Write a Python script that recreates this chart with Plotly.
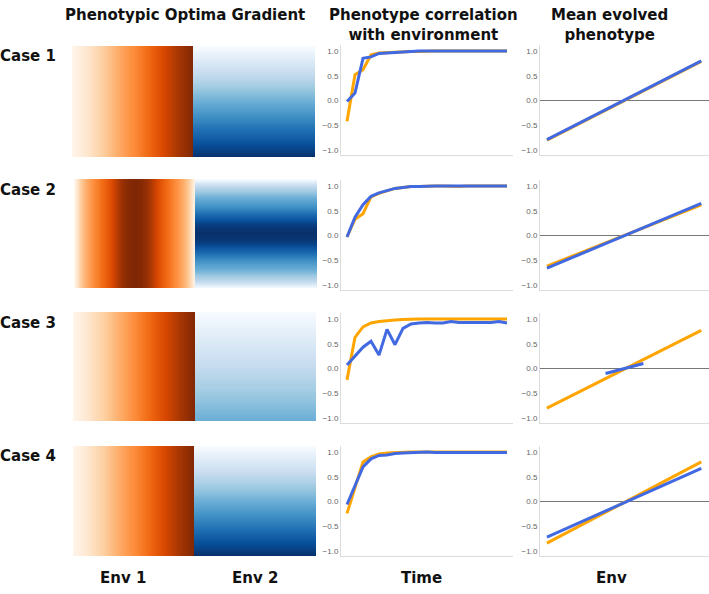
import plotly.graph_objects as go

W, H = 709, 594

# ---------------- data ----------------
# Phenotypic optima gradients (0 = low, 1 = high)
env1_linear = [0.00, 0.05, 0.10, 0.15, 0.20, 0.25, 0.30, 0.35, 0.40, 0.45, 0.50,
               0.55, 0.60, 0.65, 0.70, 0.75, 0.80, 0.85, 0.90, 0.95, 1.00]
env1_peak = [0.00, 0.25, 0.38, 0.48, 0.56, 0.64, 0.72, 0.82, 0.92, 0.98, 1.00,
             0.98, 0.92, 0.82, 0.72, 0.64, 0.56, 0.48, 0.38, 0.25, 0.00]
env2_linear = [0.00, 0.05, 0.10, 0.15, 0.20, 0.25, 0.30, 0.35, 0.40, 0.45, 0.50,
               0.55, 0.60, 0.65, 0.70, 0.75, 0.80, 0.85, 0.90, 0.95, 1.00]
env2_peak = [0.00, 0.22, 0.35, 0.46, 0.55, 0.63, 0.72, 0.82, 0.92, 0.98, 1.00,
             0.98, 0.92, 0.82, 0.72, 0.63, 0.55, 0.46, 0.35, 0.22, 0.00]
env2_weak = [0.00, 0.03, 0.05, 0.08, 0.10, 0.13, 0.15, 0.18, 0.20, 0.23, 0.25,
             0.28, 0.30, 0.33, 0.35, 0.38, 0.40, 0.43, 0.45, 0.48, 0.50]

cases = ["Case 1", "Case 2", "Case 3", "Case 4"]
env1_gradients = [env1_linear, env1_peak, env1_linear, env1_linear]
env2_gradients = [env2_linear, env2_peak, env2_weak, env2_linear]

# Phenotype correlation with environment over time
time = list(range(21))
case1_corr_env1 = [-0.42, 0.52, 0.62, 0.92, 0.96, 0.97, 0.98, 0.99, 0.99, 0.99, 1.00,
                   1.00, 1.00, 1.00, 1.00, 1.00, 1.00, 1.00, 1.00, 1.00, 1.00]
case1_corr_env2 = [-0.02, 0.15, 0.85, 0.88, 0.95, 0.96, 0.98, 0.99, 0.99, 1.00, 1.00,
                   1.00, 1.00, 1.00, 1.00, 1.00, 1.00, 1.00, 1.00, 1.00, 1.00]
case2_corr_env1 = [-0.03, 0.33, 0.44, 0.78, 0.85, 0.90, 0.95, 0.97, 0.99, 0.99, 1.00,
                   1.00, 1.00, 0.99, 0.99, 1.00, 1.00, 0.99, 1.00, 1.00, 1.00]
case2_corr_env2 = [-0.03, 0.37, 0.62, 0.79, 0.86, 0.90, 0.95, 0.97, 0.99, 0.99, 1.00,
                   1.00, 1.00, 1.00, 0.99, 0.99, 1.00, 0.99, 0.99, 1.00, 1.00]
case3_corr_env1 = [-0.23, 0.63, 0.84, 0.92, 0.95, 0.97, 0.98, 0.99, 1.00, 1.00, 1.00,
                   1.00, 1.00, 1.00, 1.00, 1.00, 1.00, 1.00, 1.00, 1.00, 1.00]
case3_corr_env2 = [0.07, 0.24, 0.43, 0.55, 0.27, 0.79, 0.48, 0.81, 0.90, 0.92, 0.93,
                   0.92, 0.92, 0.95, 0.93, 0.93, 0.93, 0.93, 0.93, 0.95, 0.92]
case4_corr_env1 = [-0.24, 0.28, 0.80, 0.90, 0.96, 0.98, 0.99, 1.00, 1.00, 1.00, 1.00,
                   1.00, 1.00, 1.00, 1.00, 1.00, 1.00, 1.00, 1.00, 1.00, 1.00]
case4_corr_env2 = [-0.06, 0.33, 0.70, 0.86, 0.93, 0.94, 0.97, 0.98, 0.99, 0.99, 1.00,
                   0.99, 0.99, 0.99, 0.99, 0.99, 0.99, 0.99, 0.99, 0.99, 0.99]
corr_env1 = [case1_corr_env1, case2_corr_env1, case3_corr_env1, case4_corr_env1]
corr_env2 = [case1_corr_env2, case2_corr_env2, case3_corr_env2, case4_corr_env2]

# Mean evolved phenotype vs environment
env_x = [-1.0, 1.0]
case1_pheno_env1 = [-0.80, 0.79]
case1_pheno_env2 = [-0.79, 0.80]
case2_pheno_env1 = [-0.62, 0.62]
case2_pheno_env2 = [-0.66, 0.65]
case3_pheno_env1 = [-0.80, 0.77]
case3_env2_x = [-0.24, 0.25]
case3_pheno_env2 = [-0.10, 0.10]
case4_pheno_env1 = [-0.84, 0.80]
case4_pheno_env2 = [-0.72, 0.67]
pheno_env1 = [case1_pheno_env1, case2_pheno_env1, case3_pheno_env1, case4_pheno_env1]
pheno_env2 = [case1_pheno_env2, case2_pheno_env2, case3_pheno_env2, case4_pheno_env2]
pheno_env2_x = [env_x, env_x, case3_env2_x, env_x]

col_titles = [("<b>Phenotypic Optima Gradient</b>", 185),
              ("<b>Phenotype correlation<br>with environment</b>", 424),
              ("<b>Mean evolved<br>phenotype</b>", 609)]
bottom_labels = [("<b>Env 1</b>", 123), ("<b>Env 2</b>", 255), ("<b>Time</b>", 421), ("<b>Env</b>", 611)]

ORANGE = "#FFA500"
BLUE = "#4169E1"

# ---------------- layout geometry (pixels) ----------------
heat_rows = [(46, 157), (179, 288), (312, 421), (446, 556)]
heat_x = [(72, 193, 315), (74, 195, 317), (73, 195, 316), (73, 194, 316)]
line_rows = [(45, 155), (180, 290), (313, 423), (446, 556)]
col3_x = (341, 513)
col4_x = (540, 709)
case_label_y = [56, 190, 323, 456]


def px(a, b):
    return [a / W, b / W]


def py(top, bottom):
    return [1 - bottom / H, 1 - top / H]


fig = go.Figure()
layout = {}
n = 0


def new_axes():
    global n
    n += 1
    return n, ("x" if n == 1 else f"x{n}"), ("y" if n == 1 else f"y{n}")


def axkey(kind, i):
    return f"{kind}axis" if i == 1 else f"{kind}axis{i}"


for r in range(4):
    t, b = heat_rows[r]
    x0, xm, x1 = heat_x[r]
    # Env 1 heatmap (gradient along x)
    i, xa, ya = new_axes()
    g1 = env1_gradients[r]
    fig.add_trace(go.Heatmap(z=[g1, g1], colorscale="Oranges", zmin=0, zmax=1,
                             zsmooth="best", showscale=False, xaxis=xa, yaxis=ya,
                             hoverinfo="skip"))
    layout[axkey("x", i)] = dict(domain=px(x0, xm), visible=False, anchor=ya,
                                 range=[0, len(g1) - 1])
    layout[axkey("y", i)] = dict(domain=py(t, b), visible=False, anchor=xa, range=[0, 1])
    # Env 2 heatmap (gradient along y, top to bottom)
    i, xa, ya = new_axes()
    g2 = env2_gradients[r]
    fig.add_trace(go.Heatmap(z=[[v, v] for v in g2], colorscale="Blues", zmin=0, zmax=1,
                             zsmooth="best", showscale=False, xaxis=xa, yaxis=ya,
                             hoverinfo="skip"))
    layout[axkey("x", i)] = dict(domain=px(xm, x1), visible=False, anchor=ya, range=[0, 1])
    layout[axkey("y", i)] = dict(domain=py(t, b), visible=False, anchor=xa,
                                 range=[len(g2) - 1, 0])

    lt, lb = line_rows[r]
    common_y = dict(domain=py(lt, lb), range=[-1.1, 1.12], tickvals=[-1, -0.5, 0, 0.5, 1],
                    tickformat=".1f", showgrid=False, showline=True, linecolor="#dcdcdc",
                    linewidth=1, ticks="", tickfont=dict(size=8, color="#666",
                                                         family="Arial, Liberation Sans"))
    # correlation over time
    i, xa, ya = new_axes()
    fig.add_trace(go.Scatter(x=time, y=corr_env1[r], mode="lines",
                             line=dict(color=ORANGE, width=3), xaxis=xa, yaxis=ya))
    fig.add_trace(go.Scatter(x=time, y=corr_env2[r], mode="lines",
                             line=dict(color=BLUE, width=3), xaxis=xa, yaxis=ya))
    layout[axkey("x", i)] = dict(domain=px(*col3_x), range=[-0.75, 20.75], showgrid=False,
                                 zeroline=False, showticklabels=False, showline=True,
                                 linecolor="#dcdcdc", anchor=ya)
    layout[axkey("y", i)] = dict(common_y, zeroline=False, anchor=xa)
    # mean evolved phenotype
    i, xa, ya = new_axes()
    fig.add_trace(go.Scatter(x=env_x, y=pheno_env1[r], mode="lines",
                             line=dict(color=ORANGE, width=3), xaxis=xa, yaxis=ya))
    fig.add_trace(go.Scatter(x=pheno_env2_x[r], y=pheno_env2[r], mode="lines",
                             line=dict(color=BLUE, width=3), xaxis=xa, yaxis=ya))
    layout[axkey("x", i)] = dict(domain=px(*col4_x), range=[-1.09, 1.1], showgrid=False,
                                 zeroline=False, showticklabels=False, showline=True,
                                 linecolor="#dcdcdc", anchor=ya)
    layout[axkey("y", i)] = dict(common_y, zeroline=True, zerolinecolor="#777",
                                 zerolinewidth=1, anchor=xa)

annotations = []
FONT = "DejaVu Sans"
for text, cx in col_titles:
    annotations.append(dict(text=text, x=cx / W, y=1 - 4 / H, xref="paper", yref="paper",
                            xanchor="center", yanchor="top", showarrow=False,
                            font=dict(family=FONT, size=15, color="#111")))
for r, name in enumerate(cases):
    annotations.append(dict(text=f"<b>{name}</b>", x=28 / W, y=1 - case_label_y[r] / H,
                            xref="paper", yref="paper", xanchor="center", yanchor="middle",
                            showarrow=False, font=dict(family=FONT, size=15, color="#111")))
for text, cx in bottom_labels:
    annotations.append(dict(text=text, x=cx / W, y=1 - 578 / H, xref="paper", yref="paper",
                            xanchor="center", yanchor="middle", showarrow=False,
                            font=dict(family=FONT, size=15, color="#111")))

fig.update_layout(width=W, height=H, margin=dict(l=0, r=0, t=0, b=0),
                  paper_bgcolor="white", plot_bgcolor="white", showlegend=False,
                  annotations=annotations, **layout)

fig.write_html("out.html", config={"displayModeBar": False},
               post_script="document.body.style.margin='0';document.body.style.overflow='hidden';")
